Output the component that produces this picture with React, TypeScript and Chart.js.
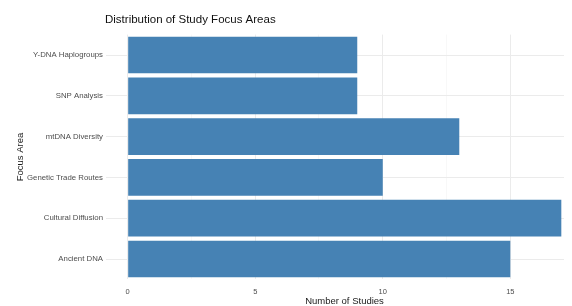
import React, { useEffect, useRef } from "react";
import { Chart, registerables } from "chart.js";

Chart.register(...registerables);

const categories = [
  "Y-DNA Haplogroups",
  "SNP Analysis",
  "mtDNA Diversity",
  "Genetic Trade Routes",
  "Cultural Diffusion",
  "Ancient DNA",
];
const studyCounts = [9, 9, 13, 10, 17, 15];
const xTickValues = [0, 2.5, 5, 7.5, 10, 12.5, 15, 17.5];
const xMajorTicks = [0, 5, 10, 15];

const chartTitle = "Distribution of Study Focus Areas";
const xTitle = "Number of Studies";
const yTitle = "Focus Area";

const FONT = "'Liberation Sans', Arial, sans-serif";

export default function App() {
  const canvasRef = useRef<HTMLCanvasElement | null>(null);

  useEffect(() => {
    if (!canvasRef.current) return;
    const titlePlugin = {
      id: "ggTitle",
      afterDraw(chart: any) {
        const ctx = chart.ctx;
        ctx.save();
        ctx.font = `11.5px ${FONT}`;
        ctx.fillStyle = "#111";
        ctx.textAlign = "left";
        ctx.textBaseline = "middle";
        ctx.fillText(chartTitle, chart.chartArea.left - 1, 12);
        ctx.restore();
      },
    };
    const chart = new Chart(canvasRef.current, {
      type: "bar",
      data: {
        labels: categories,
        datasets: [
          {
            data: studyCounts,
            backgroundColor: "#4682B4",
            borderWidth: 0,
            categoryPercentage: 1,
            barPercentage: 0.9,
          },
        ],
      },
      options: {
        indexAxis: "y",
        responsive: false,
        animation: false,
        devicePixelRatio: 1,
        layout: { padding: { top: 26.6, right: 15, left: 0, bottom: 0 } },
        plugins: {
          legend: { display: false },
          tooltip: { enabled: false },
          title: { display: false },
        },
        scales: {
          x: {
            type: "linear",
            min: -0.85,
            max: 17.85,
            afterBuildTicks: (scale: any) => {
              scale.ticks = xTickValues.map((v) => ({ value: v }));
            },
            afterFit: (scale: any) => {
              scale.height = 26.6;
            },
            border: { display: false },
            grid: {
              drawTicks: false,
              color: (ctx: any) =>
                xMajorTicks.includes(ctx.tick?.value) ? "#ebebeb" : "#f4f4f4",
              lineWidth: (ctx: any) =>
                xMajorTicks.includes(ctx.tick?.value) ? 1 : 0.6,
            },
            ticks: {
              padding: 8,
              autoSkip: false,
              maxRotation: 0,
              color: "#4d4d4d",
              font: { size: 7.5, family: FONT },
              callback: (v: any) =>
                xMajorTicks.includes(Number(v)) ? String(v) : "",
            },
            title: {
              display: true,
              text: xTitle,
              color: "#1a1a1a",
              font: { size: 9.5, family: FONT },
              padding: { top: 0, bottom: -1 },
            },
          },
          y: {
            type: "category",
            offset: true,
            afterFit: (scale: any) => {
              scale.width = 98;
            },
            border: { display: false },
            grid: {
              offset: false,
              drawTicks: false,
              color: "#ebebeb",
            },
            ticks: {
              padding: 3,
              color: "#4d4d4d",
              font: { size: 7.8, family: FONT },
            },
            title: {
              display: true,
              text: yTitle,
              color: "#1a1a1a",
              font: { size: 9.5, family: FONT },
              padding: { top: 7, bottom: 0 },
            },
          },
        },
      },
      plugins: [titlePlugin],
    });
    return () => chart.destroy();
  }, []);

  return (
    <div style={{ width: 564, height: 298, overflow: "hidden", background: "#fff" }}>
      <canvas ref={canvasRef} width={590} height={298} style={{ display: "block" }} />
    </div>
  );
}
